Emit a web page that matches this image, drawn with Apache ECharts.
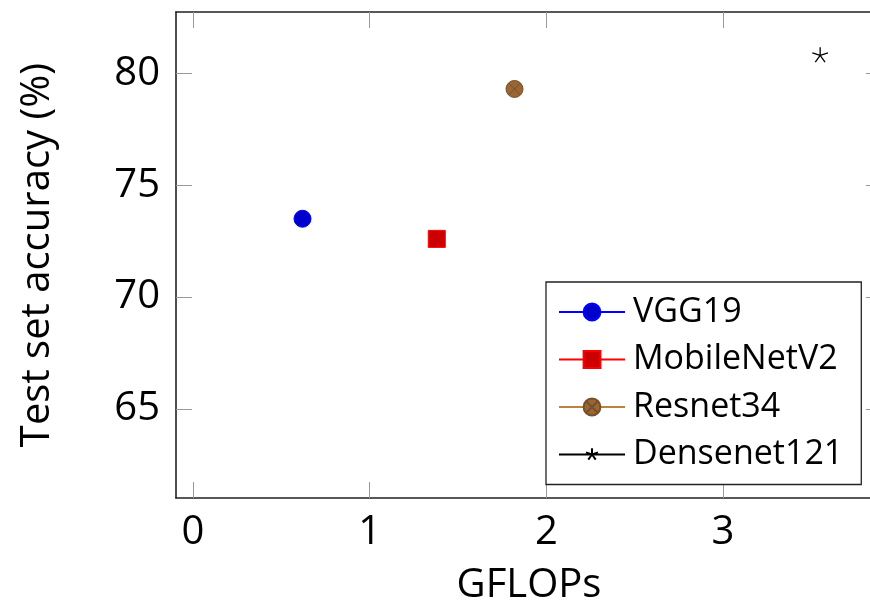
<!DOCTYPE html>
<html>
<head>
<meta charset="utf-8">
<script src="https://cdn.jsdelivr.net/npm/echarts@6/dist/echarts.min.js"></script>
<style>
html,body{margin:0;padding:0;background:#fff;}
#chart{width:870px;height:605px;}
</style>
</head>
<body>
<div id="chart"></div>
<script>
const modelNames = ['VGG19', 'MobileNetV2', 'Resnet34', 'Densenet121'];
const gflops = [0.62, 1.38, 1.82, 3.55];
const accuracy = [73.5, 72.6, 79.3, 80.8];
const xTicks = [0, 1, 2, 3];
const yTicks = [65, 70, 75, 80];
const xTitle = 'GFLOPs';
const yTitle = 'Test set accuracy (%)';

const FONT = '"Open Sans", sans-serif';
const otimesPath = 'path://M0,-1 A1,1 0 1,1 0,1 A1,1 0 1,1 0,-1 Z M-0.707,-0.707 L0.707,0.707 M0.707,-0.707 L-0.707,0.707';
const starPath = 'path://M-1.33,-1.33 M1.33,1.33 M0,0 L0,-1 M0,0 L0.951,-0.309 M0,0 L0.588,0.809 M0,0 L-0.588,0.809 M0,0 L-0.951,-0.309';

const styles = [
  {symbol: 'circle', size: 17, fill: '#0000CC', stroke: '#0000FF', line: '#0000FF', bw: 1},
  {symbol: 'rect', size: 17, fill: '#CC0000', stroke: '#FF0000', line: '#FF0000', bw: 1},
  {symbol: otimesPath, size: 17, fill: '#9A6633', stroke: '#76502B', line: '#BF8040', bw: 1},
  {symbol: starPath, size: 22, fill: 'rgba(0,0,0,0)', stroke: '#000000', line: '#000000', bw: 1.3}
];

const series = modelNames.map((name, i) => ({
  name: name,
  type: 'line',
  xAxisIndex: 0,
  yAxisIndex: 0,
  data: [[gflops[i], accuracy[i]]],
  showSymbol: true,
  symbol: styles[i].symbol,
  symbolSize: styles[i].size,
  symbolKeepAspect: true,
  itemStyle: {color: styles[i].fill, borderColor: styles[i].stroke, borderWidth: styles[i].bw},
  lineStyle: {color: styles[i].line, width: 1},
  emphasis: {disabled: true},
  animation: false
}));

const xMin = -0.096, xMax = 3.9;
const yMin = 61.02, yMax = 82.74;
const tickStyle = {show: true, inside: true, length: 16, lineStyle: {color: '#999', width: 1}};
const lineStyle = {show: true, onZero: false, lineStyle: {color: '#222', width: 1.6}};

const chart = echarts.init(document.getElementById('chart'), null, {renderer: 'canvas'});
chart.setOption({
  animation: false,
  backgroundColor: '#fff',
  grid: {left: 176, top: 12, width: 706, height: 486, containLabel: false, outerBoundsMode: 'none'},
  xAxis: [
    {
      type: 'value', position: 'bottom', min: xMin, max: xMax,
      name: xTitle, nameLocation: 'middle', nameGap: 68,
      nameTextStyle: {fontFamily: FONT, fontSize: 40, color: '#000'},
      axisLine: lineStyle,
      axisTick: Object.assign({customValues: xTicks}, tickStyle),
      axisLabel: {customValues: xTicks, fontFamily: FONT, fontSize: 40, color: '#000', margin: 15},
      splitLine: {show: false}
    },
    {
      type: 'value', position: 'top', min: xMin, max: xMax,
      axisLine: lineStyle,
      axisTick: Object.assign({customValues: xTicks}, tickStyle),
      axisLabel: {show: false},
      splitLine: {show: false}
    }
  ],
  yAxis: [
    {
      type: 'value', position: 'left', min: yMin, max: yMax,
      name: yTitle, nameLocation: 'middle', nameGap: 118, nameRotate: 90,
      nameTextStyle: {fontFamily: FONT, fontSize: 40, color: '#000'},
      axisLine: lineStyle,
      axisTick: Object.assign({customValues: yTicks}, tickStyle),
      axisLabel: {customValues: yTicks, fontFamily: FONT, fontSize: 40, color: '#000', margin: 16},
      splitLine: {show: false}
    },
    {
      type: 'value', position: 'right', min: yMin, max: yMax,
      axisLine: lineStyle,
      axisTick: Object.assign({customValues: yTicks}, tickStyle),
      axisLabel: {show: false},
      splitLine: {show: false}
    }
  ],
  legend: {
    orient: 'vertical',
    left: 546, top: 282,
    padding: [13, 18, 13, 12],
    itemWidth: 66, itemHeight: 21, itemGap: 13.5,
    backgroundColor: '#fff',
    borderColor: '#222', borderWidth: 1.3,
    selectedMode: false,
    textStyle: {fontFamily: FONT, fontSize: 34, color: '#000', padding: [0, 0, 0, 3]},
    data: modelNames
  },
  series: series
});
</script>
</body>
</html>
